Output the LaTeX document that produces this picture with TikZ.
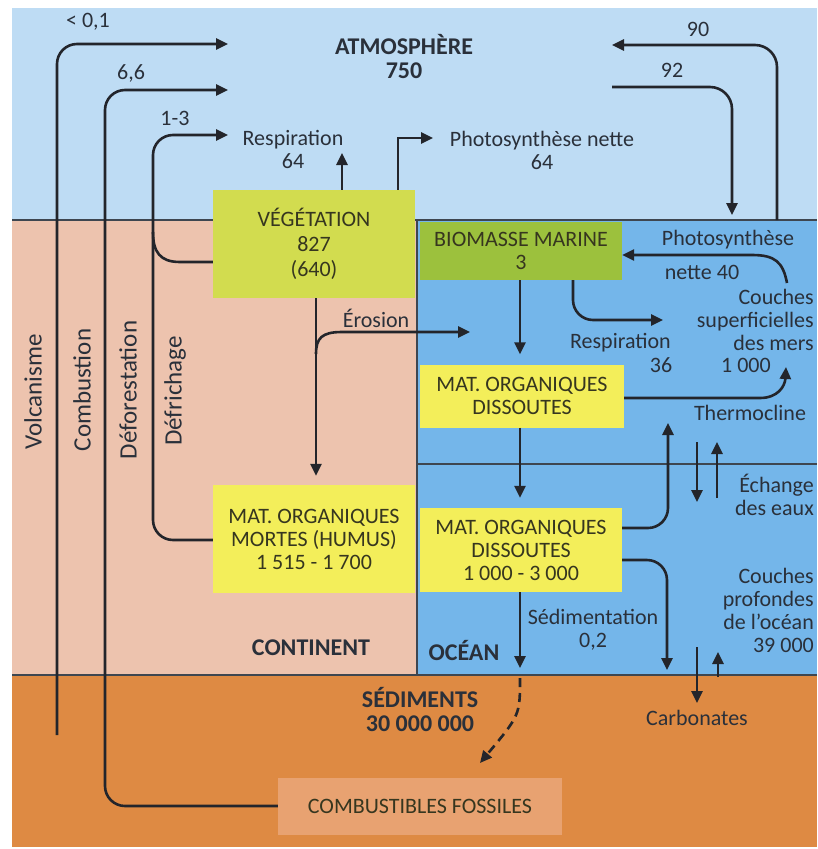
\documentclass[tikz,border=0pt]{standalone}
\usepackage{fontspec}
\setmainfont{Carlito}
\usetikzlibrary{arrows.meta}
\definecolor{atmcol}{HTML}{BEDCF4}
\definecolor{concol}{HTML}{EDC3AE}
\definecolor{oceancol}{HTML}{74B6EA}
\definecolor{sedcol}{HTML}{DE8A43}
\definecolor{vegcol}{HTML}{D2DC4F}
\definecolor{biocol}{HTML}{9CC13D}
\definecolor{modcol}{HTML}{F3EE5A}
\definecolor{fosscol}{HTML}{E8A271}
\definecolor{txtcol}{HTML}{2A303A}
\definecolor{boxtxt}{HTML}{36361F}
\definecolor{lncol}{HTML}{23252B}
\definecolor{brcol}{HTML}{3E4650}
\tikzset{
  lbl/.style={font=\fontsize{22}{23}\selectfont, text=txtcol, inner sep=0pt, align=center},
  blbl/.style={font=\bfseries\fontsize{24}{24}\selectfont, text=txtcol, inner sep=0pt, align=center},
  rlbl/.style={lbl, align=right, anchor=east},
  vlbl/.style={lbl, font=\fontsize{25}{25}\selectfont, rotate=90},
  boxnode/.style={inner sep=0pt, align=center, font=\fontsize{22}{23}\selectfont, text=boxtxt},
  arr/.style={line width=2.6pt, draw=lncol, -{Triangle[length=12pt,width=11pt]}},
  plain/.style={line width=2.6pt, draw=lncol},
  border/.style={line width=1.4pt, draw=brcol},
}
\begin{document}
\begin{tikzpicture}[x=1pt,y=-1pt]
\useasboundingbox (0,0) rectangle (817,849);
\fill[white] (0,0) rectangle (817,849);
% zones
\fill[atmcol] (12,8) rectangle (817,220);
\fill[concol] (12,220) rectangle (417,675);
\fill[oceancol] (417,220) rectangle (817,675);
\fill[sedcol] (12,675) rectangle (817,847);
\draw[border] (12,220) -- (817,220);
\draw[border] (12,675) -- (817,675);
\draw[border] (417,220) -- (417,675);
\draw[border] (417,464) -- (817,464);

% boxes
\node[boxnode, fill=vegcol, minimum width=202pt, minimum height=108pt, font=\fontsize{22}{25}\selectfont] (veg) at (314,244) {VÉGÉTATION\\827\\(640)};
\node[boxnode, fill=biocol, minimum width=202pt, minimum height=58pt] (bio) at (521,251) {BIOMASSE MARINE\\3};
\node[boxnode, fill=modcol, minimum width=204pt, minimum height=63pt] (mod1) at (522,396) {MAT. ORGANIQUES\\DISSOUTES};
\node[boxnode, fill=modcol, minimum width=202pt, minimum height=108pt] (humus) at (314,539) {MAT. ORGANIQUES\\MORTES (HUMUS)\\1 515 - 1 700};
\node[boxnode, fill=modcol, minimum width=202pt, minimum height=84pt] (mod2) at (521,550) {MAT. ORGANIQUES\\DISSOUTES\\1 000 - 3 000};
\node[boxnode, fill=fosscol, minimum width=284pt, minimum height=57pt] (fossil) at (420,806) {COMBUSTIBLES FOSSILES};

% labels
\node[blbl] (atm) at (404,57) {ATMOSPHÈRE\\750};
\node[lbl] (resp64) at (293,149) {Respiration\\64};
\node[lbl] (photo64) at (542,150) {Photosynthèse nette\\64};
\node[lbl] (l01) at (88,22) {< 0,1};
\node[lbl] (l66) at (131,73) {6,6};
\node[lbl] (l13) at (175,118) {1-3};
\node[lbl] (l90) at (698,29) {90};
\node[lbl] (l92) at (672,70) {92};
\node[lbl] (photo40a) at (728,240) {Photosynthèse};
\node[lbl] (photo40b) at (702,272) {nette 40};
\node[rlbl] (csup) at (814,320) {Couches\\superficielles\\des mers};
\node[lbl] (csupv) at (746,365) {1 000};
\node[lbl, anchor=east] (resp36a) at (671,343) {Respiration};
\node[lbl] (resp36b) at (661,365) {36};
\node[lbl] (thermo) at (750,413) {Thermocline};
\node[rlbl] (echange) at (814,495) {Échange\\des eaux};
\node[rlbl] (cprof) at (814,610) {Couches\\profondes\\de l'océan\\39 000};
\node[lbl] (sedim) at (593,630) {Sédimentation\\0,2};
\node[blbl] (ocean) at (464,650) {OCÉAN};
\node[blbl] (cont) at (311,648) {CONTINENT};
\node[blbl] (sed) at (420,709) {SÉDIMENTS\\30 000 000};
\node[lbl] (carb) at (697,718) {Carbonates};
\node[lbl] (eros) at (376,318) {Érosion};
\node[vlbl] (volc) at (33,392) {Volcanisme};
\node[vlbl] (combu) at (82,390) {Combustion};
\node[vlbl] (defor) at (128,390) {Déforestation};
\node[vlbl] (defri) at (175,391) {Défrichage};

% free-end coordinates
\coordinate (volcstart) at (57,735);
\coordinate (atmA) at (228,44);
\coordinate (atmB) at (228,90);
\coordinate (atmC) at (228,135);

% left flows
\draw[arr, rounded corners=20pt] (volcstart) -- (57,44) -- (atmA);
\draw[arr, rounded corners=20pt] (fossil.west) -- (105,806) -- (105,90) -- (atmB);
\draw[arr, rounded corners=20pt] (humus.west |- 0,540) -- (153,540) -- (153,135) -- (atmC);
\draw[plain] (veg.west |- 0,262) -- (180,262) .. controls (160,262) and (153,252) .. (153,232);

% vegetation flows
\draw[arr] (veg.north -| 342,0) -- (342,153);
\draw[arr] (veg.north -| 398,0) -- (398,138) -- (433,138);
\draw[arr, shorten >=9pt] (veg.south -| 316,0) -- (humus.north -| 316,0);
\draw[arr] (316,354) .. controls (316,338) and (322,332) .. (342,332) -- (470,332);

% atmosphere-ocean
\draw[arr, rounded corners=22pt] (777,220) -- (777,45) -- (612,45);
\draw[arr, rounded corners=22pt] (612,87) -- (732,87) -- (732,215);

% ocean flows
\draw[arr] (787,283) .. controls (783,262) and (775,255) .. (752,255) -- (bio.east |- 0,255);
\draw[arr, rounded corners=20pt] (bio.south -| 573,0) -- (573,320) -- (663,320);
\draw[arr, shorten >=10pt] (bio.south -| 520,0) -- (mod1.north -| 520,0);
\draw[arr] (mod1.east |- 0,398) -- (760,398) .. controls (778,398) and (785,386) .. (786,367);
\draw[arr, shorten >=10pt] (mod1.south -| 520,0) -- (mod2.north -| 520,0);
\draw[arr, rounded corners=20pt] (mod2.east |- 0,528) -- (668,528) -- (668,423);
\draw[arr] (697,442) -- (697,502);
\draw[arr] (717,498) -- (717,442);
\draw[arr] (mod2.south -| 520,0) -- (520,668);
\draw[arr, dashed, dash pattern=on 9pt off 6pt] (520,678) .. controls (520,715) .. (480,763);
\draw[arr, rounded corners=20pt] (mod2.east |- 0,560) -- (667,560) -- (667,670);
\draw[arr] (697,647) -- (697,703);
\draw[arr] (718,677) -- (718,652);
\end{tikzpicture}
\end{document}
